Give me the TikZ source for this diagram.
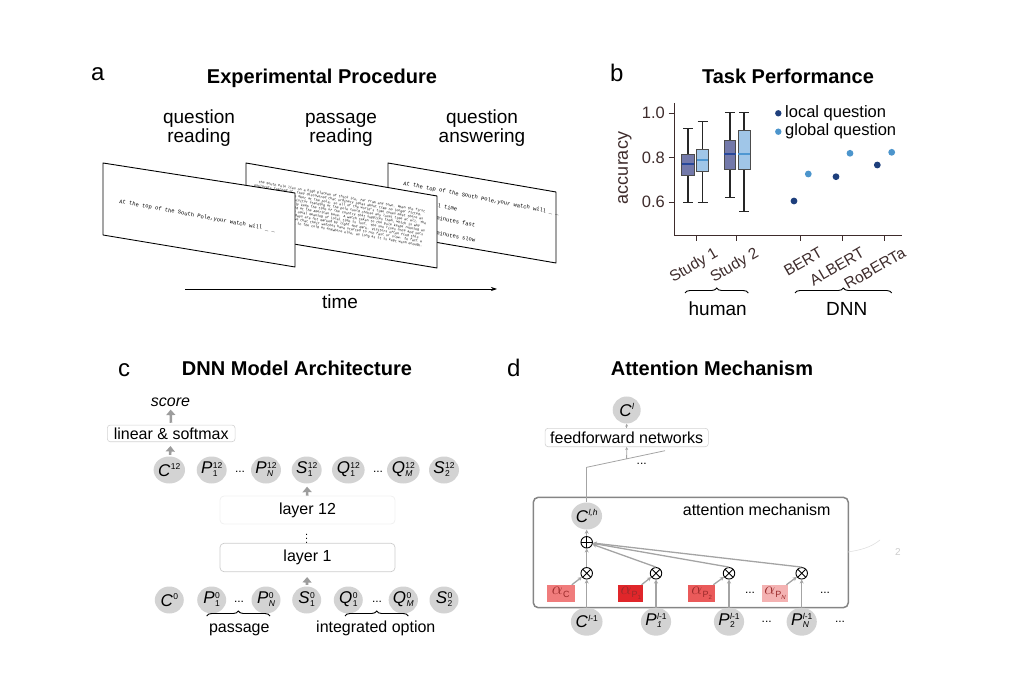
\documentclass[tikz,border=0pt]{standalone}
\usepackage{fontspec}
\setmainfont{Liberation Sans}
\newfontfamily\monof{Liberation Mono}
\usetikzlibrary{shapes.geometric,arrows.meta,decorations.pathreplacing,calc}
\definecolor{nodegray}{HTML}{D3D3D3}
\definecolor{arrgray}{HTML}{9C9C9C}
\definecolor{linegray}{HTML}{A4A4A4}
\definecolor{attgray}{HTML}{858585}
\definecolor{axcol}{HTML}{3E2C2C}
\definecolor{locdot}{HTML}{1E3F7C}
\definecolor{globdot}{HTML}{4C95CC}
\definecolor{boxloc}{HTML}{7379AA}
\definecolor{boxglob}{HTML}{A0C6E8}
\definecolor{medloc}{HTML}{27489A}
\definecolor{medglob}{HTML}{4E97D2}
\definecolor{aC}{HTML}{F07C7C}
\definecolor{aPone}{HTML}{E0262A}
\definecolor{aPtwo}{HTML}{EA5A5A}
\definecolor{aPN}{HTML}{F4B2B2}
\definecolor{alphatext}{HTML}{9A2A2A}
\newcommand{\fs}[1]{\fontsize{#1}{#1}\selectfont}
\newcommand{\tkss}[3]{\textit{#1}\kern0.4pt\raisebox{1.5pt}{\fs{8.5}\renewcommand{\arraystretch}{0.8}\begin{tabular}[c]{@{}l@{}}#2\\#3\end{tabular}}}
\newcommand{\tksup}[2]{\textit{#1}\kern0.4pt\raisebox{6.5pt}{\fs{8.5}#2}}
\newcommand{\alp}[2]{$\alpha$\kern0.3pt\raisebox{-3pt}{\fs{9}#1\raisebox{-2pt}{\fs{6}#2}}}
\begin{document}
\begin{tikzpicture}[x=1pt,y=-1pt,
  lbl/.style={font=\fs{24}, anchor=base west, inner sep=0pt},
  ttl/.style={font=\bfseries\fs{20}, anchor=base, inner sep=0pt},
  capt/.style={font=\fs{19}, anchor=base, inner sep=0pt},
  screen/.style={draw=black, fill=white, line width=0.9pt, line join=round},
  tok/.style={ellipse, fill=nodegray, minimum width=29pt, minimum height=27pt, inner sep=0pt, font=\fs{17}},
  garr/.style={draw=arrgray, line width=2.6pt, -{Triangle[length=5.5pt,width=9pt]}},
  larr/.style={draw=linegray, line width=1.3pt, -{Stealth[length=4pt,width=4pt]}},
  tarr/.style={draw=linegray, line width=0.8pt, -{Stealth[length=3pt,width=3pt]}},
  lbox/.style={draw=gray!35, rounded corners=3pt, line width=0.6pt, inner sep=0pt},
  op/.style={circle, draw=black, fill=white, line width=0.9pt, minimum size=11.5pt, inner sep=0pt},
  oplus/.style={op, path picture={\draw[line width=0.9pt] (path picture bounding box.north) -- (path picture bounding box.south) (path picture bounding box.west) -- (path picture bounding box.east);}},
  otimes/.style={op, path picture={\draw[line width=0.9pt] (path picture bounding box.north west) -- (path picture bounding box.south east) (path picture bounding box.south west) -- (path picture bounding box.north east);}},
  abox/.style={minimum height=16.7pt, inner sep=0pt, text=alphatext, font=\fs{16}},
  dotsn/.style={font=\fs{12}, inner sep=1pt},
  axlab/.style={font=\fs{16.5}, text=axcol},
  brc/.style={decorate, decoration={brace, amplitude=5pt}, line width=0.9pt},
  scrtxt/.style={anchor=base west, inner sep=0pt, font=\monof\fs{5.5}},
]
\useasboundingbox (0,0) rectangle (1010,676);

%% ---------------- panel a ----------------
\node[lbl] (la) at (91,81) {a};
\node[ttl] (ta) at (322,84) {Experimental Procedure};
\node[capt] (c1a) at (199,124) {question};
\node[capt] (c1b) at (199,143) {reading};
\node[capt] (c2a) at (341,124) {passage};
\node[capt] (c2b) at (341,143) {reading};
\node[capt] (c3a) at (482,124) {question};
\node[capt] (c3b) at (482,143) {answering};

% screen 3 (back)
\draw[screen] (388,163) -- (556,192) -- (556,263) -- (388,234) -- cycle;
\node[scrtxt, rotate=-11] (q3) at (403,185) {At the top of the South Pole,your watch will \_ \_};
\node[scrtxt, rotate=-11] (o1) at (395,199) {A. keep normal time};
\node[scrtxt, rotate=-11] (o2) at (397,212) {B. be a few minutes fast};
\node[scrtxt, rotate=-11] (o3) at (397,227) {C. be a few minutes slow};
% screen 2 (middle)
\draw[screen] (246,163) -- (437,196) -- (437,268) -- (246,236) -- cycle;
\node[anchor=north west, rotate=-10, inner sep=0pt] (pass) at (255,180) {\parbox{176pt}{\monof\fontsize{3.3}{3.8}\selectfont\raggedright
\hspace*{4pt}The South Pole lies on a high plateau of thick ice, far from any town. When the first explorers reached it, they discovered that ordinary ideas about time no longer fitted. All lines of longitude meet at the pole, so all of the world's time zones meet there as well. In principle a visitor standing at the pole could choose any local time at all. The research stations simply keep the time of the country that supplies them, which is why New Zealand time is used at the American base. A watch taken to the pole keeps running as it always does, but the usual meaning of local time is lost. The sun rises once and sets once each year, so the days are not marked by light and dark. Visitors often find this confusing and may believe that their watches have started to run fast or slow. In fact a good watch works as well in the cold as anywhere else, as long as it is kept warm enough.}};
% screen 1 (front)
\draw[screen] (103,163) -- (295,193) -- (295,267) -- (103,235) -- cycle;
\node[scrtxt, rotate=-10.5] (q1) at (119,203) {At the top of the South Pole,your watch will \_ \_};

% time arrow
\coordinate (t0) at (185,289);
\coordinate (t1) at (497,289);
\draw[line width=0.7pt, -{Stealth[length=6pt,width=4pt]}] (t0) -- (t1);
\node[capt] (time) at (340,309) {time};

%% ---------------- panel b ----------------
\node[lbl] (lb) at (610,82) {b};
\node[ttl] (tb) at (788,84) {Task Performance};
\draw[axcol, line width=1pt] (674.3,103) -- (674.3,235.7) -- (901.7,235.7);
\foreach \v/\yy in {1.0/113.2, 0.8/157.7, 0.6/202.2}{
  \draw[axcol, line width=0.9pt] (668.5,\yy) -- (674.3,\yy);
  \node[axlab, anchor=east, inner sep=0pt] at (665,\yy) {\v};
}
\node[axlab, rotate=90, font=\fs{18}] (acc) at (625,168) {accuracy};
\foreach \xx/\t in {696/Study 1, 736.7/Study 2, 800.7/BERT, 842.7/ALBERT, 884/RoBERTa}{
  \draw[axcol, line width=0.9pt] (\xx,235.7) -- (\xx,241);
  \node[axlab, font=\fs{15.5}, rotate=30, anchor=base east, inner sep=0pt] at ($(\xx,256)+(23,0)$) {\t};
}
% whiskers
\foreach \cx/\lo/\hi in {688/128.3/202.7, 702.5/121.7/202.7, 729.9/112.7/197.3, 744.2/112.7/211.7}{
  \draw[black!85, line width=1.5pt] (\cx,\lo) -- (\cx,\hi);
  \draw[black!85, line width=1.5pt] (\cx-5,\lo) -- (\cx+5,\lo);
  \draw[black!85, line width=1.5pt] (\cx-5,\hi) -- (\cx+5,\hi);
}
% boxes
\draw[fill=boxloc, draw=black!70, line width=0.8pt] (681.7,154.3) rectangle (694.3,175);
\draw[medloc, line width=1.6pt] (681.7,164) -- (694.3,164);
\draw[fill=boxglob, draw=black!70, line width=0.8pt] (696.7,149.3) rectangle (708.3,171.7);
\draw[medglob, line width=1.6pt] (696.7,160) -- (708.3,160);
\draw[fill=boxloc, draw=black!70, line width=0.8pt] (724,140.7) rectangle (735.7,169.3);
\draw[medloc, line width=1.6pt] (724,154.3) -- (735.7,154.3);
\draw[fill=boxglob, draw=black!70, line width=0.8pt] (738.3,130) rectangle (750,169.3);
\draw[medglob, line width=1.6pt] (738.3,154.3) -- (750,154.3);
% model dots
\fill[locdot] (794,201) circle (3.4);
\fill[globdot] (808.3,174) circle (3.4);
\fill[locdot] (836,176.7) circle (3.4);
\fill[globdot] (850,153.3) circle (3.4);
\fill[locdot] (877.3,165) circle (3.4);
\fill[globdot] (891.7,152.3) circle (3.4);
% legend
\fill[locdot] (778.3,113.3) circle (3.2);
\node[font=\fs{16.5}, anchor=base west, inner sep=0pt] (leg1) at (785,117.5) {local question};
\fill[globdot] (778.3,131.7) circle (3.2);
\node[font=\fs{16.5}, anchor=base west, inner sep=0pt] (leg2) at (785,136) {global question};
% group braces
\draw[brc] (685,293) -- (748.3,293);
\node[capt] (hum) at (717.7,316) {human};
\draw[brc] (795,293) -- (891.7,293);
\node[capt] (dnn) at (846.7,316) {DNN};

%% ---------------- panel c ----------------
\node[lbl] (lc) at (118,377) {c};
\node[ttl] (tc) at (297,376) {DNN Model Architecture};
\node[tok] (c12) at (169.3,470) {\tksup{C}{12}};
\node[tok] (p112) at (211.7,470) {\tkss{P}{12}{1}};
\node[dotsn] (d112) at (240,472) {...};
\node[tok] (pn12) at (266,470) {\tkss{P}{12}{\textit{N}}};
\node[tok] (s112) at (306.7,470) {\tkss{S}{12}{1}};
\node[tok] (q112) at (348.3,470) {\tkss{Q}{12}{1}};
\node[dotsn] (d212) at (378,472) {...};
\node[tok] (qm12) at (403.3,470) {\tkss{Q}{12}{\textit{M}}};
\node[tok] (s212) at (444,470) {\tkss{S}{12}{2}};

\node[lbox, minimum width=127.7pt, minimum height=16.7pt, font=\fs{16}] (lin) at (171.2,433.4) {linear \& softmax};
\node[font=\itshape\fs{16}, inner sep=2pt] (score) at (170.5,402) {score};
\draw[garr, shorten <=1.5pt, shorten >=4pt] (c12) -- (lin);
\draw[garr, shorten <=2pt, shorten >=1pt] (lin) -- (score);

\node[draw=gray!12, rounded corners=4pt, line width=0.8pt, minimum width=175pt, minimum height=28pt, font=\fs{16}] (l12) at (307.5,510) {layer 12};
\node[font=\fs{11}, inner sep=0pt] (vd) at (306.7,536) {$\vdots$};
\node[draw=gray!40, rounded corners=4pt, line width=0.7pt, minimum width=175pt, minimum height=28.4pt, font=\fs{16}] (l1) at (307.5,557.5) {layer 1};
\draw[garr, shorten >=3pt] (l12) -- (s112);

\node[tok] (c0) at (169.3,600) {\tksup{C}{0}};
\node[tok] (p10) at (211.7,600) {\tkss{P}{0}{1}};
\node[dotsn] (d10) at (239,602) {...};
\node[tok] (pn0) at (266,600) {\tkss{P}{0}{\textit{N}}};
\node[tok] (s10) at (306.7,600) {\tkss{S}{0}{1}};
\node[tok] (q10) at (348.3,600) {\tkss{Q}{0}{1}};
\node[dotsn] (d20) at (377,602) {...};
\node[tok] (qm0) at (403.3,600) {\tkss{Q}{0}{\textit{M}}};
\node[tok] (s20) at (444,600) {\tkss{S}{0}{2}};
\draw[garr, shorten <=1.5pt, shorten >=5pt] (s10) -- (l1);

\draw[brc] (206.7,616) -- (270,616);
\node[capt, font=\fs{16}] (psg) at (239.3,632) {passage};
\draw[brc] (345,616) -- (408.3,616);
\node[capt, font=\fs{16}] (iop) at (375.8,632) {integrated option};

%% ---------------- panel d ----------------
\node[lbl] (ld) at (507,377) {d};
\node[ttl] (td) at (712,376) {Attention Mechanism};
\node[tok, minimum width=28pt] (cl) at (626.7,410) {\tksup{C}{\textit{l}}};
\node[lbox, minimum width=163.3pt, minimum height=18.4pt, font=\fs{16}] (ff) at (626.7,437.5) {feedforward networks};
\draw[tarr] (ff) -- (cl);
\coordinate (hj) at (586.7,467.3);
\coordinate (he) at (665,450.7);
\draw[linegray, line width=0.8pt] (hj) -- (he);
\coordinate (hm) at ($(hj)!0.51!(he)$);
\draw[tarr] (hm) -- (ff);
\node[dotsn] (hd) at (641.7,464) {...};

\node[draw=attgray, line width=1.5pt, rounded corners=5pt, minimum width=315pt, minimum height=110.4pt, inner sep=0pt] (att) at (690.8,552.5) {};
\node[font=\fs{16}] (attl) at (756.7,510) {attention mechanism};

\node[tok, minimum width=28pt] (clh) at (586.7,516) {\tksup{C}{\textit{l,h}}};
\draw[linegray, line width=0.8pt] (clh) -- (hj);
\node[oplus] (plus) at (586.7,542.3) {};
\draw[larr] (plus) -- (clh);

\node[otimes] (m1) at (586.7,573.3) {};
\node[otimes] (m2) at (656,573.3) {};
\node[otimes] (m3) at (729,573.3) {};
\node[otimes] (m4) at (801.7,573.3) {};
\draw[larr] (m1) -- (plus);
\draw[larr] (m2.north) -- (plus);
\draw[larr] (m3.north) -- (plus);
\draw[larr] (m4.north) -- (plus);

\node[abox, fill=aC, minimum width=28.3pt] (ac) at (560.8,593.3) {\alp{C}{}};
\node[abox, fill=aPone, minimum width=25pt] (ap1) at (630.8,593.3) {\alp{P}{1}};
\node[abox, fill=aPtwo, minimum width=26.7pt] (ap2) at (701.7,593.3) {\alp{P}{2}};
\node[abox, fill=aPN, minimum width=26.7pt] (apn) at (775,593.3) {\alp{P}{\textit{N}}};
\node[dotsn] (ad1) at (750,593) {...};
\node[dotsn] (ad2) at (825,593) {...};
\draw[larr] (ac) -- (m1);
\draw[larr] (ap1) -- (m2);
\draw[larr] (ap2) -- (m3);
\draw[larr] (apn) -- (m4);

\node[tok, minimum width=30pt, minimum height=28pt] (cl1) at (586.7,621.7) {\tksup{C}{\textit{l}-1}};
\node[tok, minimum width=30pt, minimum height=28pt] (p1l) at (656,621.7) {\tkss{P}{\textit{l}-1}{\textit{1}}};
\node[tok, minimum width=30pt, minimum height=28pt] (p2l) at (729,621.7) {\tkss{P}{\textit{l}-1}{2}};
\node[dotsn] (bd1) at (766.7,622) {...};
\node[tok, minimum width=30pt, minimum height=28pt] (pnl) at (801.7,621.7) {\tkss{P}{\textit{l}-1}{\textit{N}}};
\node[dotsn] (bd2) at (840,622) {...};
\draw[larr] (cl1) -- (m1);
\draw[larr] (p1l) -- (m2);
\draw[larr] (p2l) -- (m3);
\draw[larr] (pnl) -- (m4);

% faint remnant at the right of the box
\coordinate (r0) at (848,552);
\coordinate (r1) at (880,540);
\draw[gray!25, line width=0.6pt] (r0) .. controls (860,550) and (870,548) .. (r1);
\node[text=gray!40, font=\fs{10}, inner sep=0pt] (rem) at (898,552) {2};
\end{tikzpicture}
\end{document}
